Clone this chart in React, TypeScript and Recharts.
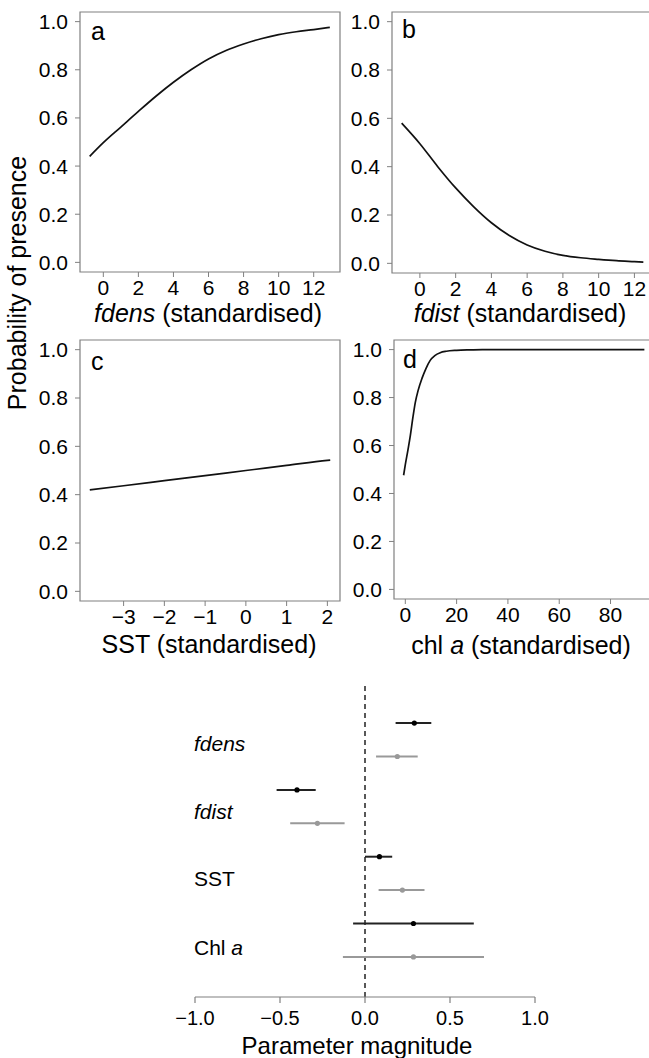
import React from "react"
import {
  LineChart,
  Line,
  XAxis,
  YAxis,
  ReferenceArea,
  ReferenceLine,
  ScatterChart,
  Scatter,
  ErrorBar,
} from "recharts"

// panel a: fdens
const fdensX = [-0.78, 0, 1, 2, 3, 4, 5, 6, 7, 8, 9, 10, 11, 12, 12.92]
const fdensP = [0.44, 0.497, 0.562, 0.627, 0.69, 0.748, 0.8, 0.845, 0.88, 0.907, 0.929, 0.946, 0.958, 0.967, 0.976]

// panel b: fdist
const fdistX = [-1.02, 0, 1, 2, 3, 4, 5, 6, 7, 8, 9, 10, 11, 12, 12.5]
const fdistP = [0.58, 0.495, 0.4, 0.312, 0.235, 0.168, 0.115, 0.076, 0.05, 0.033, 0.023, 0.0165, 0.011, 0.007, 0.005]

// panel c: SST
const sstX = [-3.83, -3, -2, -1, 0, 1, 2, 2.07]
const sstP = [0.42, 0.437, 0.458, 0.479, 0.5, 0.521, 0.542, 0.543]

// panel d: chl a
const chlX = [-0.66, 0, 1, 1.94, 3, 3.9, 5, 6.5, 8, 9.7, 11.5, 13.6, 16, 20, 25, 30, 93.2]
const chlP = [0.476, 0.52, 0.58, 0.64, 0.72, 0.78, 0.83, 0.88, 0.92, 0.955, 0.975, 0.987, 0.993, 0.997, 0.999, 1.0, 1.0]

const probTicks = [0, 0.2, 0.4, 0.6, 0.8, 1.0]

// parameter estimates: [estimate, low, high]
const paramNames = ["fdens", "fdist", "SST", "Chl a"]
const fullModel = [
  [0.29, 0.18, 0.39],
  [-0.4, -0.52, -0.29],
  [0.085, 0.0, 0.16],
  [0.285, -0.07, 0.64],
]
const singleModel = [
  [0.19, 0.065, 0.31],
  [-0.28, -0.44, -0.12],
  [0.22, 0.08, 0.35],
  [0.285, -0.13, 0.7],
]
const magTicks = [-1, -0.5, 0, 0.5, 1]

const FONT = "'Liberation Sans', Arial, Helvetica, sans-serif"
const GREY_AXIS = "#808080"

const fmtNum = (v: number) => (v < 0 ? `\u2212${Math.abs(v)}` : String(v))
const fmtMag = (v: number) => (v < 0 ? `\u2212${Math.abs(v).toFixed(1)}` : v.toFixed(1))

function toRows(xs: number[], ys: number[]) {
  return xs.map((x, i) => ({ x, y: ys[i] }))
}

type PanelProps = {
  left: number
  top: number
  width: number
  height: number
  xs: number[]
  ys: number[]
  xDomain: [number, number]
  xTicks: number[]
}

function Panel({ left, top, width, height, xs, ys, xDomain, xTicks }: PanelProps) {
  const data = toRows(xs, ys)
  return (
    <div style={{ position: "absolute", left, top }}>
      <LineChart width={width} height={height} data={data} margin={{ top: 5, right: 5, left: 0, bottom: 0 }}>
        <XAxis
          type="number"
          dataKey="x"
          domain={xDomain}
          ticks={xTicks}
          allowDataOverflow
          height={40}
          axisLine={false}
          tickLine={{ stroke: GREY_AXIS }}
          tickSize={5}
          tickMargin={3}
          tick={{ fill: "#000", fontSize: 21 }}
          tickFormatter={fmtNum}
          interval={0}
        />
        <YAxis
          type="number"
          domain={[-0.04, 1.04]}
          ticks={probTicks}
          allowDataOverflow
          width={60}
          axisLine={false}
          tickLine={{ stroke: GREY_AXIS }}
          tickSize={5}
          tickMargin={7}
          tick={{ fill: "#000", fontSize: 21 }}
          tickFormatter={(v: number) => v.toFixed(1)}
          interval={0}
        />
        <ReferenceArea
          x1={xDomain[0]}
          x2={xDomain[1]}
          y1={-0.04}
          y2={1.04}
          fill="none"
          stroke={GREY_AXIS}
          strokeWidth={1.2}
          ifOverflow="visible"
        />
        <Line
          type="monotone"
          dataKey="y"
          stroke="#111"
          strokeWidth={1.7}
          dot={false}
          isAnimationActive={false}
        />
      </LineChart>
    </div>
  )
}

function Text({ x, y, size, children, align = "center" }: any) {
  const tx = align === "center" ? "-50%" : "0"
  return (
    <div
      style={{
        position: "absolute",
        left: x,
        top: y,
        transform: `translate(${tx}, -50%)`,
        fontSize: size,
        whiteSpace: "nowrap",
        lineHeight: 1,
        color: "#000",
      }}
    >
      {children}
    </div>
  )
}

const Dot = (color: string) => (props: any) => <circle cx={props.cx} cy={props.cy} r={2.6} fill={color} />

function Estimates() {
  const black = fullModel.map((d, i) => ({ x: d[0], y: i * 2 + 1, err: [d[0] - d[1], d[2] - d[0]] }))
  const grey = singleModel.map((d, i) => ({ x: d[0], y: i * 2 + 2, err: [d[0] - d[1], d[2] - d[0]] }))
  return (
    <div style={{ position: "absolute", left: 165, top: 678 }}>
      <ScatterChart width={400} height={359} margin={{ top: 5, right: 30, left: 30, bottom: 0 }}>
        <XAxis
          type="number"
          dataKey="x"
          domain={[-1, 1]}
          ticks={magTicks}
          allowDataOverflow
          height={40}
          axisLine={{ stroke: GREY_AXIS, strokeWidth: 1.2 }}
          tickLine={{ stroke: GREY_AXIS, strokeWidth: 1.2 }}
          tickSize={6}
          tickMargin={8}
          tick={{ fill: "#000", fontSize: 20 }}
          tickFormatter={fmtMag}
          interval={0}
        />
        <YAxis type="number" dataKey="y" domain={[-0.2, 9.2]} reversed hide width={0} />
        <ReferenceLine x={0} stroke="#222" strokeWidth={1.5} strokeDasharray="5 4" />
        <Scatter data={grey} shape={Dot("#999")} isAnimationActive={false}>
          <ErrorBar dataKey="err" direction="x" width={0} stroke="#999" strokeWidth={2} isAnimationActive={false} />
        </Scatter>
        <Scatter data={black} shape={Dot("#000")} isAnimationActive={false}>
          <ErrorBar dataKey="err" direction="x" width={0} stroke="#222" strokeWidth={2} isAnimationActive={false} />
        </Scatter>
      </ScatterChart>
    </div>
  )
}

export default function App() {
  return (
    <div
      style={{
        position: "absolute",
        left: 0,
        top: 0,
        width: 649,
        height: 1058,
        overflow: "hidden",
        background: "#fff",
        fontFamily: FONT,
      }}
    >
      <Panel left={20} top={7} width={325} height={305} xs={fdensX} ys={fdensP} xDomain={[-1.33, 13.5]} xTicks={[0, 2, 4, 6, 8, 10, 12]} />
      <Panel left={332} top={7} width={326} height={306} xs={fdistX} ys={fdistP} xDomain={[-1.56, 13.04]} xTicks={[0, 2, 4, 6, 8, 10, 12]} />
      <Panel left={20} top={335} width={325} height={306} xs={sstX} ys={sstP} xDomain={[-4.07, 2.31]} xTicks={[-3, -2, -1, 0, 1, 2]} />
      <Panel left={334} top={335} width={325} height={304} xs={chlX} ys={chlP} xDomain={[-4.41, 96.95]} xTicks={[0, 20, 40, 60, 80]} />

      <Text x={91} y={31} size={25} align="left">a</Text>
      <Text x={402} y={29} size={25} align="left">b</Text>
      <Text x={91} y={361} size={25} align="left">c</Text>
      <Text x={403} y={359} size={25} align="left">d</Text>

      <Text x={208} y={313} size={25}><i>fdens</i> (standardised)</Text>
      <Text x={520} y={313} size={25}><i>fdist</i> (standardised)</Text>
      <Text x={209} y={644} size={25}>SST (standardised)</Text>
      <Text x={521} y={645} size={25}>chl <i>a</i> (standardised)</Text>

      <div
        style={{
          position: "absolute",
          left: 17,
          top: 283,
          transform: "translate(-50%, -50%) rotate(-90deg)",
          fontSize: 25,
          whiteSpace: "nowrap",
          lineHeight: 1,
        }}
      >
        Probability of presence
      </div>

      <Estimates />

      <Text x={194} y={743} size={21} align="left"><i>{paramNames[0]}</i></Text>
      <Text x={194} y={811} size={21} align="left"><i>{paramNames[1]}</i></Text>
      <Text x={194} y={878} size={21} align="left">{paramNames[2]}</Text>
      <Text x={194} y={947} size={21} align="left">Chl <i>a</i></Text>

      <Text x={357} y={1046} size={24}>Parameter magnitude</Text>
    </div>
  )
}
